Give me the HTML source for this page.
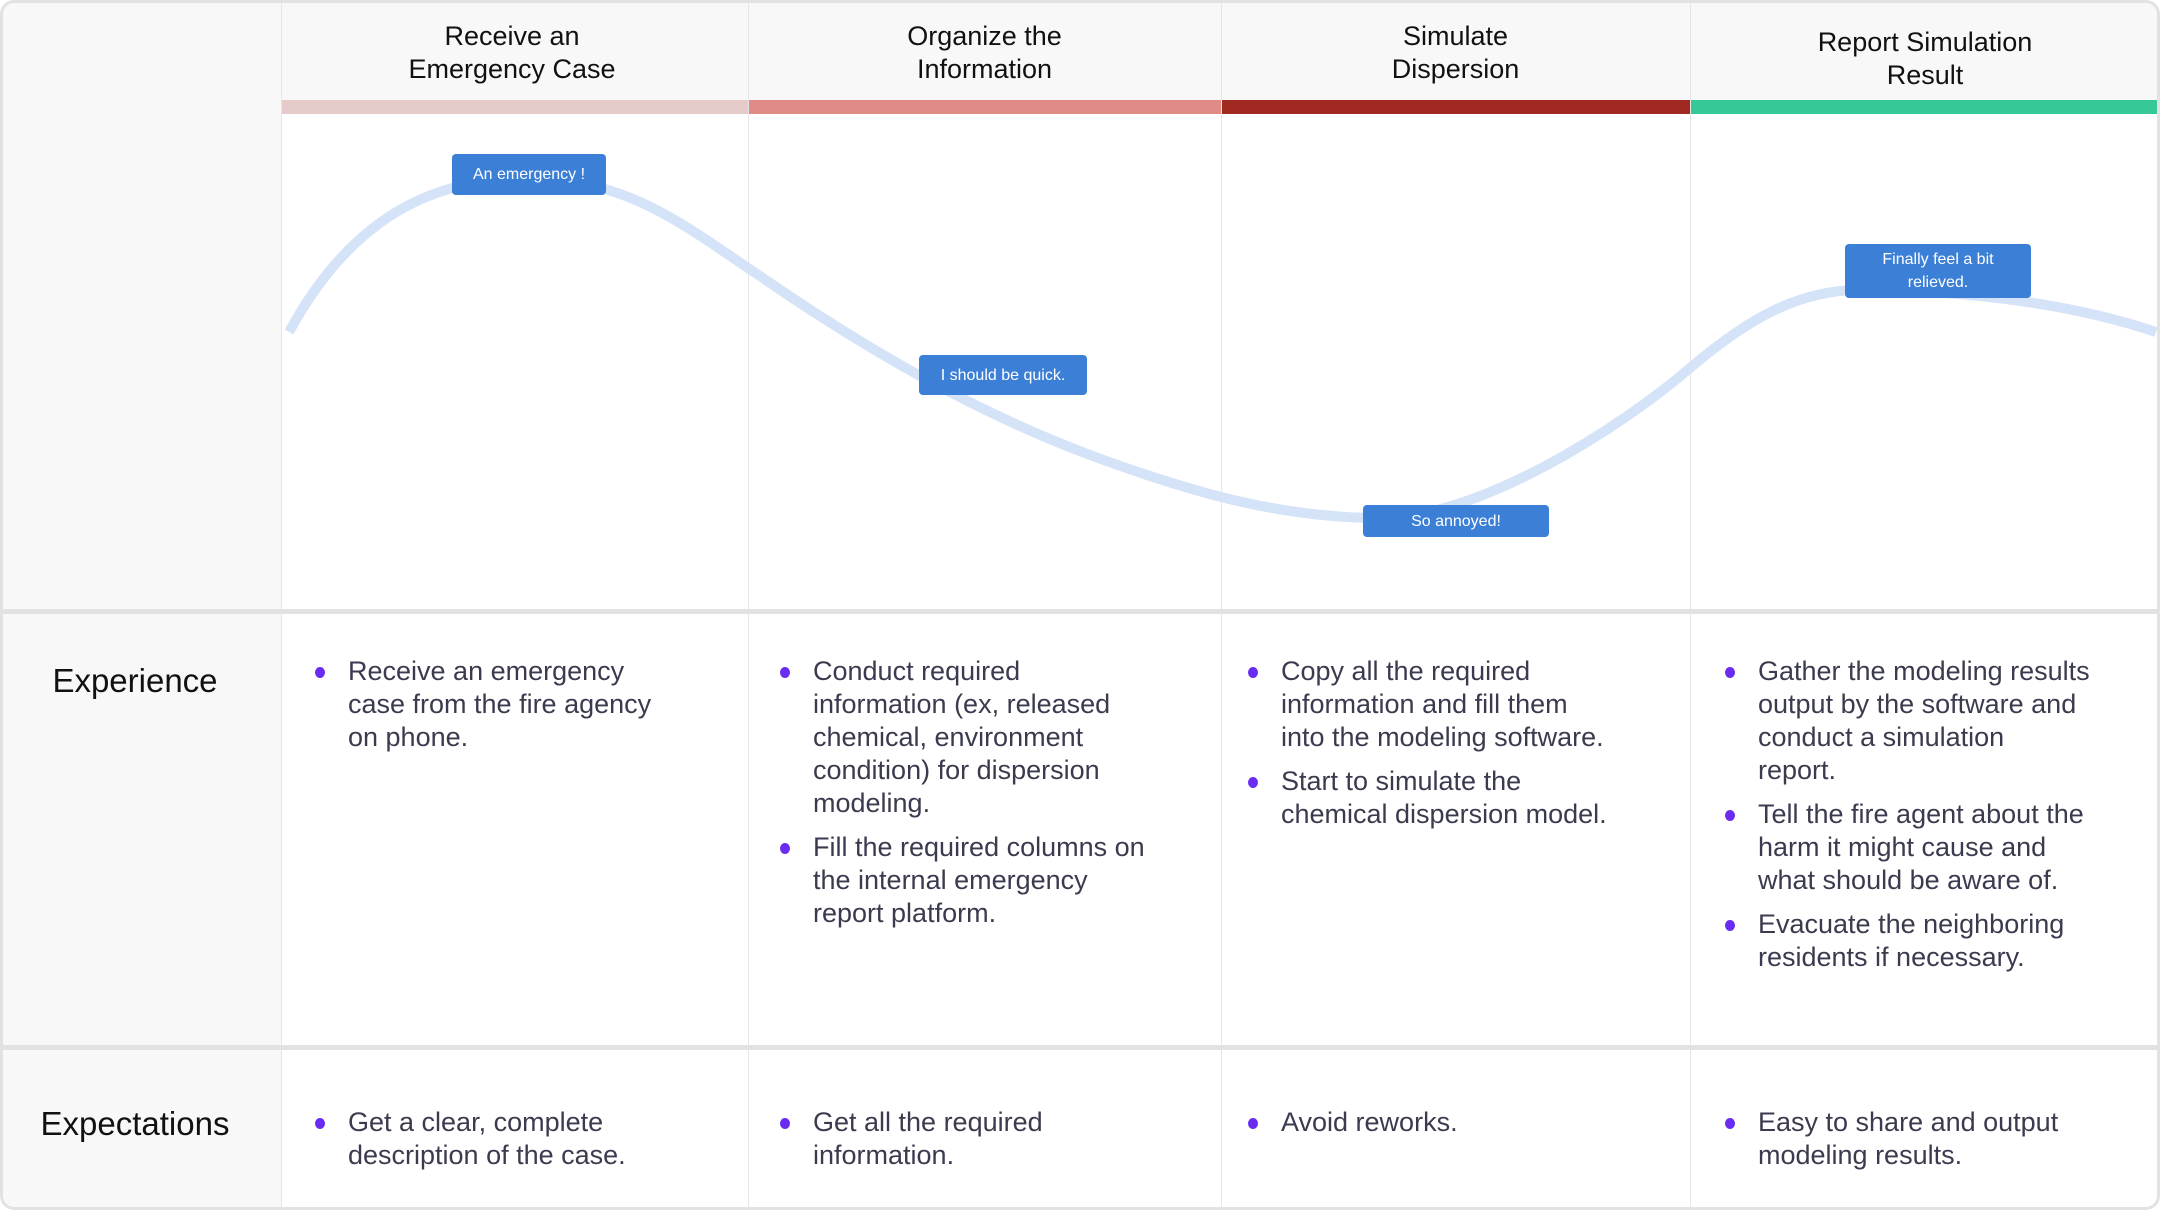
<!DOCTYPE html>
<html><head><meta charset="utf-8"><style>
*{margin:0;padding:0;box-sizing:border-box}
body{width:2160px;height:1210px;background:#fff;font-family:"Liberation Sans",sans-serif;position:relative;overflow:hidden}
.frame{position:absolute;left:0;top:0;width:2160px;height:1210px;border-radius:14px;overflow:hidden;background:#fff}
.border{position:absolute;left:0;top:0;width:2160px;height:1210px;border:3px solid #e2e2e2;border-radius:14px;pointer-events:none}
.abs{position:absolute}
.gray{background:#f8f8f8}
.vl{position:absolute;width:1px;background:#e6e6e6}
.hl{position:absolute;left:0;width:2160px;height:5px;background:#e2e2e2}
.hd{position:absolute;top:2px;height:101px;display:flex;align-items:center;justify-content:center;text-align:center;font-size:27px;line-height:33px;color:#111}
.bar{position:absolute;top:100px;height:14px}
.tag{position:absolute;background:#3b7fd6;color:#fff;border-radius:4px;font-size:16px;display:flex;align-items:center;justify-content:center;text-align:center;line-height:23px}
.lbl{position:absolute;font-size:33px;color:#111;left:0;width:270px;text-align:center}
.cell{position:absolute;font-size:27px;line-height:33px;color:#3b3b4f}
.cell p{position:relative;padding-left:0;margin-bottom:11px}
.cell p:before{content:"";position:absolute;left:-33px;top:12px;width:10px;height:11px;border-radius:50%;background:#6a2cf0}
</style></head><body>
<div class="frame">
<div class="abs gray" style="left:0;top:0;width:2160px;height:100px"></div>
<div class="abs gray" style="left:0;top:0;width:282px;height:1210px"></div>

<div class="bar" style="left:282px;width:466px;background:#e5cccb"></div>
<div class="bar" style="left:748px;width:473px;background:#e08b85"></div>
<div class="bar" style="left:1221px;width:469px;background:#a02a22"></div>
<div class="bar" style="left:1690px;width:470px;background:#36c897"></div>

<div class="vl" style="left:281px;top:0;height:1210px"></div>
<div class="vl" style="left:748px;top:0;height:1210px"></div>
<div class="vl" style="left:1221px;top:0;height:1210px"></div>
<div class="vl" style="left:1690px;top:0;height:1210px"></div>

<div class="hd" style="left:282px;width:460px">Receive an<br>Emergency Case</div>
<div class="hd" style="left:748px;width:473px">Organize the<br>Information</div>
<div class="hd" style="left:1221px;width:469px">Simulate<br>Dispersion</div>
<div class="hd" style="left:1690px;width:470px;padding-top:12px">Report Simulation<br>Result</div>

<svg class="abs" style="left:0;top:0" width="2160" height="610">
<path d="M289,332 C350,220 430,178 529,178 C630,178 690,230 760,276 C860,345 970,410 1090,455 C1190,492 1280,518 1380,518 C1480,518 1620,428 1690,368 C1750,317 1800,290 1860,290 C1950,290 2060,300 2156,332" fill="none" stroke="#d5e3f8" stroke-width="10"/>
</svg>

<div class="tag" style="left:452px;top:154px;width:154px;height:41px">An emergency !</div>
<div class="tag" style="left:919px;top:355px;width:168px;height:40px">I should be quick.</div>
<div class="tag" style="left:1363px;top:505px;width:186px;height:32px">So annoyed!</div>
<div class="tag" style="left:1845px;top:244px;width:186px;height:54px">Finally feel a bit<br>relieved.</div>

<div class="hl" style="top:609px"></div>
<div class="hl" style="top:1045px"></div>

<div class="lbl" style="top:662px">Experience</div>
<div class="lbl" style="top:1105px">Expectations</div>

<div class="cell" style="left:348px;top:655px">
<p>Receive an emergency<br>case from the fire agency<br>on phone.</p></div>
<div class="cell" style="left:813px;top:655px">
<p>Conduct required<br>information (ex, released<br>chemical, environment<br>condition) for dispersion<br>modeling.</p>
<p>Fill the required columns on<br>the internal emergency<br>report platform.</p></div>
<div class="cell" style="left:1281px;top:655px">
<p>Copy all the required<br>information and fill them<br>into the modeling software.</p>
<p>Start to simulate the<br>chemical dispersion model.</p></div>
<div class="cell" style="left:1758px;top:655px">
<p>Gather the modeling results<br>output by the software and<br>conduct a simulation<br>report.</p>
<p>Tell the fire agent about the<br>harm it might cause and<br>what should be aware of.</p>
<p>Evacuate the neighboring<br>residents if necessary.</p></div>

<div class="cell" style="left:348px;top:1106px"><p>Get a clear, complete<br>description of the case.</p></div>
<div class="cell" style="left:813px;top:1106px"><p>Get all the required<br>information.</p></div>
<div class="cell" style="left:1281px;top:1106px"><p>Avoid reworks.</p></div>
<div class="cell" style="left:1758px;top:1106px"><p>Easy to share and output<br>modeling results.</p></div>
<div class="border"></div>
</div>
</body></html>
